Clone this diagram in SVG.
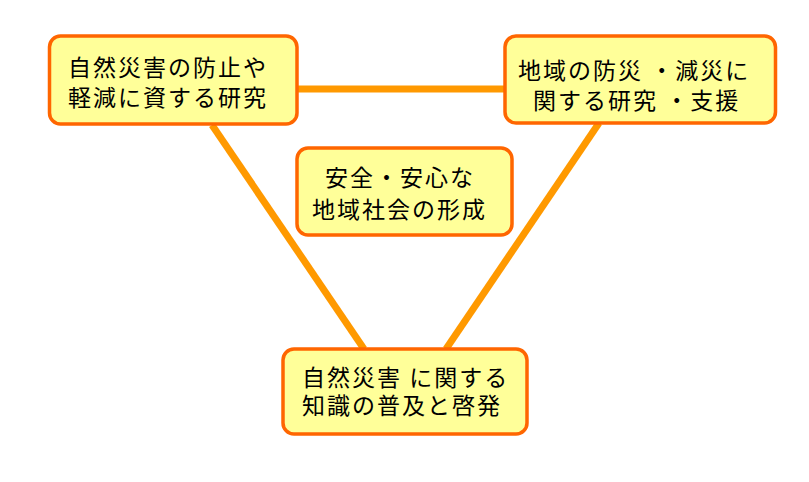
<svg xmlns="http://www.w3.org/2000/svg" width="809" height="482" viewBox="0 0 809 482">
<style>
.box{fill:#FFFF99;stroke:#FF6600;stroke-width:3.5}
.lbl{font-family:"Noto Sans CJK JP","Noto Sans CJK SC",sans-serif;font-size:23px;letter-spacing:2px;fill:#000}
.con{stroke:#FF9900;stroke-width:7;fill:none}
</style>
<rect width="809" height="482" fill="#fff"/>
<g id="connectors">
<line class="con" x1="297" y1="89" x2="505" y2="89"/>
<line class="con" x1="212" y1="125" x2="364" y2="349"/>
<line class="con" x1="599" y1="123" x2="446" y2="349"/>
</g>
<g id="node-research">
<rect class="box" x="49.5" y="36" width="247.5" height="88" rx="11"/>
<text class="lbl" x="68" y="76">自然災害の防止や</text>
<text class="lbl" x="68" y="106">軽減に資する研究</text>
</g>
<g id="node-regional">
<rect class="box" x="505" y="36" width="270.5" height="87" rx="11"/>
<text class="lbl" x="518" y="79">地域の防災 ・減災に</text>
<text class="lbl" x="533" y="109">関する研究 ・支援</text>
</g>
<g id="node-center">
<rect class="box" x="297" y="148" width="215" height="87" rx="11"/>
<text class="lbl" x="325" y="186">安全・安心な</text>
<text class="lbl" x="312" y="218">地域社会の形成</text>
</g>
<g id="node-knowledge">
<rect class="box" x="283" y="349" width="244" height="85" rx="11"/>
<text class="lbl" x="302" y="386">自然災害 に関する</text>
<text class="lbl" x="302" y="414">知識の普及と啓発</text>
</g>
</svg>
